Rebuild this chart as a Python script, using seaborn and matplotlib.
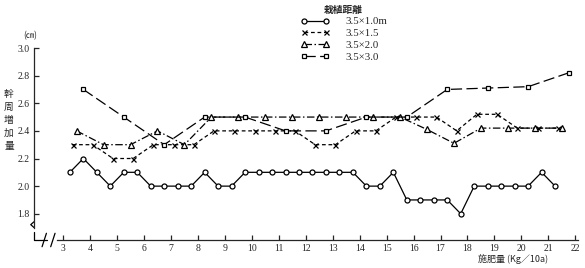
import matplotlib
matplotlib.use("Agg")
import matplotlib.pyplot as plt
import seaborn as sns
import pandas as pd
from matplotlib.lines import Line2D

# ---- data ----
circle_x = [3.25, 3.75, 4.25, 4.75, 5.25, 5.75, 6.25, 6.75, 7.25, 7.75, 8.25, 8.75,
            9.25, 9.75, 10.25, 10.75, 11.25, 11.75, 12.25, 12.75, 13.25, 13.75, 14.25,
            14.75, 15.25, 15.75, 16.25, 16.75, 17.25, 17.75, 18.25, 18.75, 19.25, 19.75,
            20.25, 20.75, 21.25]
circle_y = [2.1, 2.2, 2.1, 2.0, 2.1, 2.1, 2.0, 2.0, 2.0, 2.0, 2.1, 2.0,
            2.0, 2.1, 2.1, 2.1, 2.1, 2.1, 2.1, 2.1, 2.1, 2.1, 2.0,
            2.0, 2.1, 1.9, 1.9, 1.9, 1.9, 1.8, 2.0, 2.0, 2.0, 2.0,
            2.0, 2.1, 2.0]

cross_x = [3.35, 4.1, 4.85, 5.6, 6.35, 7.1, 7.85, 8.6, 9.35, 10.1, 10.85, 11.6, 12.35,
           13.1, 13.85, 14.6, 15.35, 16.1, 16.85, 17.6, 18.35, 19.1, 19.85, 20.6, 21.35]
cross_y = [2.3, 2.3, 2.2, 2.2, 2.3, 2.3, 2.3, 2.4, 2.4, 2.4, 2.4, 2.4, 2.3,
           2.3, 2.4, 2.4, 2.5, 2.5, 2.5, 2.4, 2.52, 2.52, 2.42, 2.42, 2.42]

tri_x = [3.5, 4.5, 5.5, 6.5, 7.5, 8.5, 9.5, 10.5, 11.5, 12.5, 13.5, 14.5, 15.5,
         16.5, 17.5, 18.5, 19.5, 20.5, 21.5]
tri_y = [2.4, 2.3, 2.3, 2.4, 2.3, 2.5, 2.5, 2.5, 2.5, 2.5, 2.5, 2.5, 2.5,
         2.41, 2.31, 2.42, 2.42, 2.42, 2.42]

sq_x = [3.75, 5.25, 6.75, 8.25, 9.75, 11.25, 12.75, 14.25, 15.75, 17.25, 18.75, 20.25, 21.75]
sq_y = [2.7, 2.5, 2.3, 2.5, 2.5, 2.4, 2.4, 2.5, 2.5, 2.7, 2.71, 2.72, 2.82]

series_labels = ["3.5×1.0m", "3.5×1.5", "3.5×2.0", "3.5×3.0"]
legend_title = "栽植距離"
x_ticks = list(range(3, 23))
y_ticks = [1.8, 2.0, 2.2, 2.4, 2.6, 2.8, 3.0]
x_label = "施肥量 (Kg／10a)"
y_label = "幹周増加量"
unit_label = "(㎝)"

# ---- style ----
sns.set_style("ticks")
fam = ["Liberation Serif", "Noto Sans CJK JP"]
plt.rcParams["font.family"] = fam

fig = plt.figure(figsize=(5.85, 2.68), dpi=100)
ax = fig.add_axes([34/585, 1-240/268, (578-34)/585, (240-48)/268])

specs = [
    (circle_x, circle_y, "o", "-", 3.6),
    (cross_x, cross_y, "x", (0, (3, 2.2)), 3.6),
    (tri_x, tri_y, "^", (0, (6, 2, 1.2, 2)), 4.2),
    (sq_x, sq_y, "s", (0, (9, 3.5)), 3.4),
]
handles = []
for (xs, ys, mk, ls, ms), lab in zip(specs, series_labels):
    df = pd.DataFrame({"x": xs, "y": ys})
    sns.lineplot(data=df, x="x", y="y", ax=ax, color="black", linewidth=0.9,
                 linestyle=ls, marker=mk, markersize=ms, markerfacecolor="white",
                 markeredgecolor="black", markeredgewidth=0.9, sort=False,
                 estimator=None)
    handles.append(Line2D([], [], color="black", lw=0.9, linestyle=ls, marker=mk,
                          markersize=ms, markerfacecolor="white",
                          markeredgecolor="black", markeredgewidth=0.9, label=lab))

ax.set_xlim(1.92, 22.1)
ax.set_ylim(1.61, 3.0)
ax.set_xticks(x_ticks)
ax.set_xticklabels([str(t) for t in x_ticks], fontsize=7)
ax.set_yticks(y_ticks)
ax.set_yticklabels([f"{t:.1f}" for t in y_ticks], fontsize=7)
ax.tick_params(direction="in", length=3.5, width=0.9, pad=3)
ax.set_xlabel("")
ax.set_ylabel("")
sns.despine(ax=ax)
for s in ("left", "bottom"):
    ax.spines[s].set_linewidth(0.9)
ax.spines["left"].set_bounds(1.7, 3.0)
ax.spines["bottom"].set_bounds(2.78, 22.1)

# manual axis pieces and break marks (axes fraction coords)
tr = ax.transAxes
xr = 22.1 - 1.92
def fx(v):
    return (v - 1.92) / xr
ax.plot([0, 0, fx(2.42)], [0.04, 0, 0], color="black", lw=0.9, transform=tr, clip_on=False)
# y break
ax.plot([0, -0.006, 0.0], [0.065, 0.08, 0.095], color="black", lw=0.9, transform=tr, clip_on=False)
# x break slashes
for xv in (2.3, 2.62):
    ax.plot([fx(xv) - 0.004, fx(xv) + 0.004], [-0.035, 0.035], color="black", lw=0.9,
            transform=tr, clip_on=False)

leg = ax.legend(handles=handles, title=legend_title, loc="upper left",
                bbox_to_anchor=(293/585, 1 + 3/268), bbox_transform=fig.transFigure,
                frameon=False, numpoints=2, handlelength=2.6, handletextpad=1.5,
                labelspacing=0.2, fontsize=7.8, title_fontsize=7, borderpad=0.2)
leg.get_title().set_family(["Noto Sans CJK JP"])
leg.get_title().set_fontweight("bold")

fig.text(30/585, 1 - 36/268, unit_label, fontsize=6, ha="center", va="center",
         family=["Noto Sans CJK JP", "DejaVu Sans"])
fig.text(9/585, 1 - 120/268, "\n".join(y_label), fontsize=7, ha="center", va="center",
         linespacing=1.35, family=["Noto Sans CJK JP"])
fig.text(513/585, 1 - 259/268, x_label, fontsize=6.5, ha="center", va="center",
         family=["Noto Sans CJK JP"])

fig.savefig("out.png", dpi=100)
